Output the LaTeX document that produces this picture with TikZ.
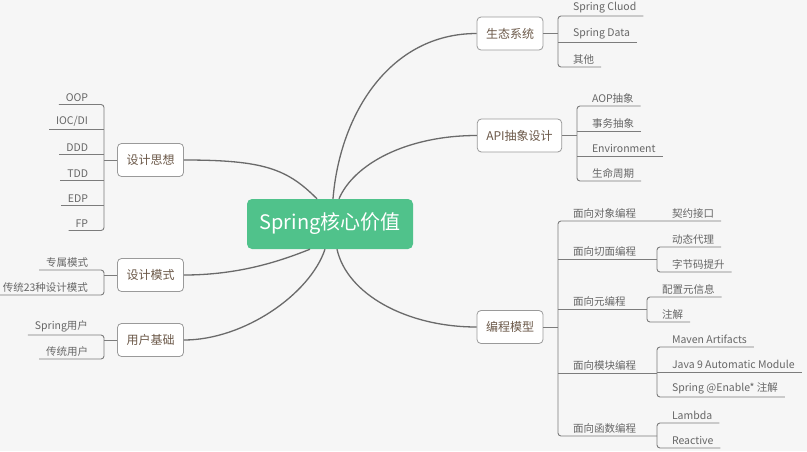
\documentclass[tikz,border=0pt]{standalone}
\usepackage{fontspec}
\setmainfont{Noto Sans CJK SC}
\definecolor{paper color}{HTML}{F6F6F6}
\definecolor{core color}{HTML}{50C28B}
\definecolor{trunk color}{HTML}{6A6A6A}
\definecolor{twig color}{HTML}{7C7C7C}
\definecolor{box color}{HTML}{9A9A9A}
\definecolor{main text color}{HTML}{6B5848}
\definecolor{leaf text color}{HTML}{666666}
\tikzset{
    x={1pt},
    y={-1pt},
    trunk/.style={
        draw=trunk color,
        line width={1.3pt},
    },
    twig/.style={
        draw=twig color,
        line width={0.9pt},
        rounded corners={3pt},
    },
    core topic/.style={
        fill=core color, text=white,
        rounded corners={5pt},
        minimum width={166}, minimum height={50},
        font={\fontsize{20}{24}\selectfont},
    },
    main topic/.style={
        draw=box color, fill=white,
        line width={0.8pt},
        rounded corners={4pt},
        text=main text color,
        inner xsep=9pt,
        minimum height={33},
        font={\fontsize{12}{14}\selectfont},
    },
    leaf topic/.style={
        text=leaf text color,
        inner xsep=7pt, inner ysep=3pt,
        outer sep=0pt,
        font={\fontsize{10.5}{12}\selectfont},
    },
    leaf left/.style={leaf topic, anchor=south east},
    leaf right/.style={leaf topic, anchor=south west},
}

\begin{document}
\begin{tikzpicture}
% background
\useasboundingbox[fill=paper color] (0,0) rectangle (807,451);
% main topics
\node[core topic] (core) at (330,224) {Spring核心价值};
\node[main topic] (dsgn) at (150.5,160) {设计思想};
\node[main topic] (pattern) at (150.5,275) {设计模式};
\node[main topic] (users) at (150.5,340) {用户基础};
\node[main topic] (eco) at (510,33.5) {生态系统};
\node[main topic] (api) at (519.5,135.5) {API抽象设计};
\node[main topic] (prog) at (510,327) {编程模型};
% trunk curves
\draw[trunk] ([xshift=-13pt]core.north) .. controls +(-30,-30) and +(80,0) .. (dsgn.east);
\draw[trunk] ([xshift=-20pt]core.south) .. controls +(-30,12) and +(55,0) .. (pattern.east);
\draw[trunk] ([xshift=-5pt]core.south) .. controls +(-15,45) and +(60,0) .. (users.east);
\draw[trunk] ([xshift=3pt]core.north) .. controls +(7,-86) and +(-86,0) .. (eco.west);
\draw[trunk] ([xshift=9pt]core.north) .. controls +(15,-35) and +(-70,0) .. (api.west);
\draw[trunk] ([xshift=7pt]core.south) .. controls +(10,45) and +(-70,0) .. (prog.west);
% leaves: design ideas
\node[leaf left] (oop) at (95,104.5) {OOP};
\node[leaf left] (ioc) at (95,129.7) {IOC/DI};
\node[leaf left] (ddd) at (95,154.9) {DDD};
\node[leaf left] (tdd) at (95,180.1) {TDD};
\node[leaf left] (edp) at (95,205.3) {EDP};
\node[leaf left] (fp) at (95,230.5) {FP};
\coordinate (dsgnbr) at (104,160);
\draw[twig] (oop.south west) -| (dsgnbr) |- (fp.south west);
\foreach \n in {ioc,ddd,tdd,edp}
    \draw[twig] (\n.south west) -- (\n.south west -| dsgnbr);
\draw[twig] (dsgn.west) -- (dsgnbr);
% leaves: design patterns
\node[leaf left] (own) at (95,270) {专属模式};
\node[leaf left] (gof) at (95,295) {传统23种设计模式};
\coordinate (patternbr) at (104,275);
\draw[twig] (own.south west) -| (patternbr) |- (gof.south west);
\draw[twig] (pattern.west) -- (patternbr);
% leaves: users
\node[leaf left] (springuser) at (95,335) {Spring用户};
\node[leaf left] (olduser) at (95,359) {传统用户};
\coordinate (usersbr) at (104,340);
\draw[twig] (springuser.south west) -| (usersbr) |- (olduser.south west);
\draw[twig] (users.west) -- (usersbr);
% leaves: ecosystem
\node[leaf right] (cloud) at (566,16) {Spring Cluod};
\node[leaf right] (data) at (566,42) {Spring Data};
\node[leaf right] (misc) at (566,67) {其他};
\coordinate (ecobr) at (558,33.5);
\draw[twig] (cloud.south east) -| (ecobr) |- (misc.south east);
\draw[twig] (data.south east) -- (data.south east -| ecobr);
\draw[twig] (eco.east) -- (ecobr);
% leaves: api
\node[leaf right] (aop) at (585,106) {AOP抽象};
\node[leaf right] (tx) at (585,131) {事务抽象};
\node[leaf right] (env) at (585,156) {Environment};
\node[leaf right] (life) at (585,181) {生命周期};
\coordinate (apibr) at (577,135.5);
\draw[twig] (aop.south east) -| (apibr) |- (life.south east);
\foreach \n in {tx,env}
    \draw[twig] (\n.south east) -- (\n.south east -| apibr);
\draw[twig] (api.east) -- (apibr);
% programming model
\node[leaf right] (obj) at (566,221) {面向对象编程};
\node[leaf right] (aspect) at (566,259) {面向切面编程};
\node[leaf right] (meta) at (566,309) {面向元编程};
\node[leaf right] (module) at (566,373) {面向模块编程};
\node[leaf right] (func) at (566,436) {面向函数编程};
\node[leaf right] (contract) at (665,221) {契约接口};
\node[leaf right] (proxy) at (665,247) {动态代理};
\node[leaf right] (bytecode) at (665,272) {字节码提升};
\node[leaf right] (metainfo) at (655,297) {配置元信息};
\node[leaf right] (anno) at (655,322) {注解};
\node[leaf right] (maven) at (665,347) {Maven Artifacts};
\node[leaf right] (java) at (665,372) {Java 9 Automatic Module};
\node[leaf right] (enable) at (665,397) {Spring @Enable* 注解};
\node[leaf right] (lambda) at (665,423) {Lambda};
\node[leaf right] (reactive) at (665,448) {Reactive};
\coordinate (progbr) at (558,327);
\coordinate (aspectbr) at (657,259);
\coordinate (metabr) at (647,309);
\coordinate (modulebr) at (657,373);
\coordinate (funcbr) at (657,436);
\draw[twig] (contract.south east) -| (progbr) |- (funcbr);
\foreach \n in {aspectbr,metabr,modulebr}
    \draw[twig] (\n -| progbr) -- (\n);
\draw[twig] (prog.east) -- (progbr);
\draw[twig] (proxy.south east) -| (aspectbr) |- (bytecode.south east);
\draw[twig] (metainfo.south east) -| (metabr) |- (anno.south east);
\draw[twig] (maven.south east) -| (modulebr) |- (enable.south east);
\draw[twig] (java.south east) -- (java.south east -| modulebr);
\draw[twig] (lambda.south east) -| (funcbr) |- (reactive.south east);
\end{tikzpicture}
\end{document}
